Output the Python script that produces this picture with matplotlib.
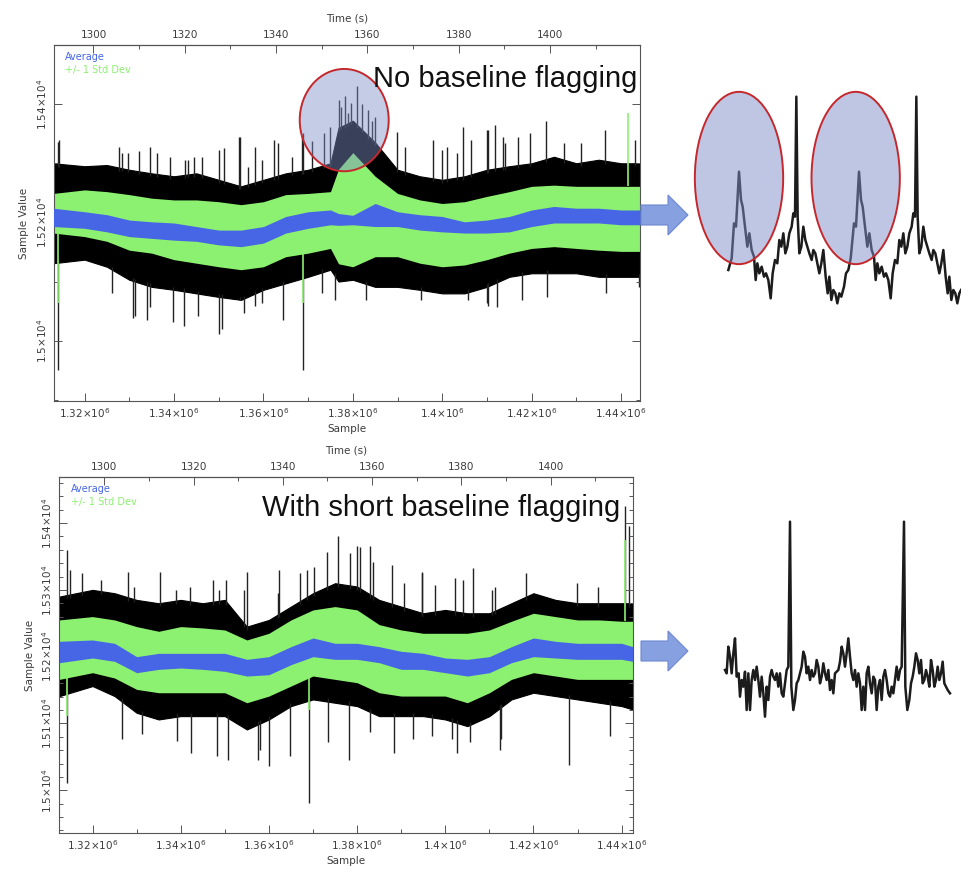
import numpy as np
import matplotlib
matplotlib.use("Agg")
import matplotlib.pyplot as plt
from matplotlib.patches import Ellipse, Polygon
from matplotlib.ticker import MultipleLocator, FixedLocator, FuncFormatter

plt.rcParams['font.family'] = ['DejaVu Sans']

# ------------------------------------------------------------------
# 数据 (从图上读取的包络/尖峰, 单位: 样本值)
# ------------------------------------------------------------------
grid_top = np.array([1.3130, 1.3200, 1.3250, 1.3300, 1.3350, 1.3400, 1.3450, 1.3500, 1.3550, 1.3600,
                     1.3650, 1.3700, 1.3750, 1.3768, 1.3800, 1.3850, 1.3900, 1.3950, 1.4000, 1.4050,
                     1.4100, 1.4150, 1.4200, 1.4250, 1.4300, 1.4350, 1.4400, 1.4443]) * 1e6
grid_bot = np.concatenate([[1.3125e6], np.arange(1.320e6, 1.4401e6, 5000), [1.4425e6]])

top_black_hi = [15300, 15295, 15297, 15289, 15283, 15278, 15283, 15272, 15261, 15272, 15283, 15289, 15300,
                15360, 15372, 15335, 15289, 15278, 15272, 15278, 15289, 15295, 15300, 15311, 15300, 15306,
                15300, 15300]
top_green_hi = [15249, 15255, 15252, 15247, 15241, 15238, 15238, 15235, 15230, 15235, 15247, 15249, 15252,
                15290, 15318, 15278, 15249, 15238, 15232, 15235, 15244, 15252, 15261, 15263, 15261, 15261,
                15261, 15261]
top_blue_hi = [15224, 15218, 15213, 15204, 15201, 15199, 15193, 15187, 15187, 15193, 15210, 15218, 15221,
               15215, 15212, 15232, 15218, 15213, 15210, 15201, 15204, 15210, 15221, 15227, 15224, 15224,
               15221, 15221]
top_blue_lo = [15193, 15190, 15184, 15176, 15173, 15170, 15168, 15162, 15159, 15165, 15182, 15190, 15196,
               15195, 15196, 15193, 15193, 15187, 15184, 15182, 15182, 15184, 15193, 15199, 15199, 15199,
               15196, 15196]
top_green_lo = [15182, 15176, 15168, 15153, 15148, 15137, 15131, 15125, 15120, 15125, 15142, 15148, 15156,
                15130, 15125, 15142, 15142, 15131, 15125, 15128, 15137, 15148, 15156, 15159, 15156, 15153,
                15151, 15151]
top_black_lo = [15131, 15137, 15125, 15103, 15091, 15086, 15080, 15074, 15069, 15086, 15097, 15108, 15120,
                15100, 15103, 15091, 15091, 15086, 15080, 15080, 15091, 15108, 15114, 15114, 15114, 15108,
                15108, 15108]

top_spike_up_s = np.array([1.31405, 1.31426, 1.32769, 1.32838, 1.32970, 1.33214, 1.33468, 1.33609, 1.3392, 1.34249,
                           1.34311, 1.34438, 1.34626, 1.35002, 1.35116, 1.35445, 1.35474, 1.35653, 1.35821, 1.35966,
                           1.36235, 1.3632, 1.36637, 1.36866, 1.36883, 1.37092, 1.3735, 1.3750, 1.37685, 1.37826,
                           1.37967, 1.3809, 1.38344, 1.38485, 1.38985, 1.39164, 1.39790, 1.39991, 1.40104, 1.40326,
                           1.40461, 1.4065, 1.40997, 1.41026, 1.41176, 1.41355, 1.41403, 1.41685, 1.41967, 1.42325,
                           1.4272, 1.43097, 1.43633, 1.4432, 1.37740, 1.37900, 1.38200, 1.38420]) * 1e6
top_spike_up_v = [15336, 15340, 15327, 15317, 15317, 15320, 15328, 15317, 15311, 15306,
                  15305, 15311, 15311, 15323, 15326, 15345, 15344, 15294, 15328, 15305,
                  15339, 15334, 15311, 15345, 15351, 15337, 15351, 15362, 15407, 15413,
                  15402, 15431, 15390, 15379, 15353, 15327, 15339, 15323, 15328, 15317,
                  15362, 15340, 15356, 15357, 15365, 15344, 15334, 15345, 15351, 15371,
                  15334, 15334, 15357, 15340, 15395, 15385, 15400, 15372]
top_spike_dn_s = np.array([1.31407, 1.32612, 1.33082, 1.3312, 1.3339, 1.33462, 1.33975, 1.34221, 1.34534, 1.35002,
                           1.35071, 1.35474, 1.35567, 1.35802, 1.35966, 1.36436, 1.36885, 1.37308, 1.376, 1.38297,
                           1.3952, 1.40571, 1.40997, 1.41026, 1.41221, 1.41779, 1.42344, 1.43662, 1.44396]) * 1e6
top_spike_dn_v = [14950, 15081, 15039, 15041, 15035, 15057, 15032, 15024, 15041, 15012,
                  15019, 15069, 15046, 15058, 15064, 15035, 14950, 15081, 15069, 15069,
                  15069, 15069, 15064, 15058, 15057, 15069, 15074, 15080, 15091]
top_green_spk_s = np.array([1.31407, 1.36885, 1.44151]) * 1e6
top_green_spk_v = [15063, 15063, 15385]

bot_black_hi = [15290, 15300, 15295, 15285, 15280, 15285, 15280, 15285, 15245, 15255, 15275, 15295, 15310,
                15305, 15285, 15275, 15265, 15270, 15265, 15265, 15280, 15295, 15285, 15280, 15280, 15280, 15280]
bot_green_hi = [15255, 15260, 15255, 15245, 15238, 15245, 15243, 15240, 15225, 15235, 15255, 15270, 15275,
                15270, 15248, 15240, 15235, 15235, 15235, 15240, 15253, 15265, 15260, 15255, 15255, 15253, 15253]
bot_blue_hi = [15223, 15225, 15220, 15200, 15205, 15205, 15205, 15205, 15196, 15200, 15215, 15228, 15220,
               15220, 15215, 15208, 15205, 15198, 15196, 15200, 15215, 15228, 15223, 15220, 15220, 15220, 15215]
bot_blue_lo = [15191, 15198, 15193, 15176, 15181, 15183, 15181, 15178, 15171, 15173, 15188, 15200, 15196,
               15196, 15191, 15181, 15181, 15176, 15171, 15176, 15191, 15200, 15198, 15196, 15196, 15196, 15193]
bot_green_lo = [15166, 15176, 15168, 15151, 15146, 15146, 15146, 15146, 15131, 15141, 15156, 15171, 15166,
                15161, 15146, 15141, 15141, 15141, 15131, 15146, 15166, 15176, 15171, 15166, 15166, 15166, 15166]
bot_black_lo = [15141, 15156, 15141, 15116, 15106, 15111, 15111, 15111, 15091, 15106, 15126, 15136, 15131,
                15126, 15111, 15111, 15111, 15106, 15096, 15111, 15136, 15146, 15141, 15136, 15131, 15126, 15121]

bot_spike_up_s = np.array([1.31427, 1.31494, 1.31754, 1.32191, 1.32811, 1.32936, 1.33530, 1.3389, 1.34215, 1.34739,
                           1.34864, 1.35027, 1.35437, 1.35496, 1.36201, 1.36236, 1.36705, 1.36857, 1.37012, 1.3731,
                           1.37575, 1.37839, 1.37995, 1.38066, 1.38301, 1.38368, 1.38785, 1.39065, 1.39466, 1.39475,
                           1.39767, 1.40221, 1.40401, 1.40636, 1.41069, 1.41128, 1.41833, 1.42979, 1.43456, 1.44077,
                           1.44172]) * 1e6
bot_spike_up_v = [15360, 15330, 15325, 15315, 15327, 15305, 15327, 15300, 15305, 15315,
                  15300, 15315, 15300, 15327, 15295, 15330, 15325, 15330, 15335, 15357,
                  15380, 15355, 15365, 15364, 15365, 15342, 15337, 15310, 15327, 15325,
                  15307, 15318, 15315, 15333, 15300, 15304, 15325, 15310, 15305, 15425,
                  15395]
bot_spike_dn_s = np.array([1.31427, 1.32668, 1.33115, 1.33908, 1.34244, 1.34816, 1.35079, 1.35742, 1.35798, 1.3601,
                           1.36478, 1.36898, 1.37347, 1.37805, 1.38293, 1.38826, 1.39276, 1.39693, 1.40147, 1.40258,
                           1.40562, 1.41242, 1.41261, 1.42807, 1.43743]) * 1e6
bot_spike_dn_v = [15011, 15076, 15084, 15073, 15056, 15051, 15046, 15046, 15061, 15036,
                  15051, 14981, 15072, 15046, 15087, 15056, 15076, 15081, 15076, 15056,
                  15072, 15061, 15076, 15038, 15081]
bot_green_spk_s = np.array([1.31427, 1.36898, 1.44077]) * 1e6
bot_green_spk_v = [15111, 15120, 15375]

# 顶部时间轴: 1300 s 对应的样本号, 每秒样本数
time_map_top = (1.32198e6, 1021.2)
time_map_bot = (1.32267e6, 1012.0)
time_ticks = [1300, 1320, 1340, 1360, 1380, 1400]

# 示意曲线 (任意单位)
sketch_top_t = [205, 215, 222, 228, 237, 243, 248, 255, 262, 268, 275, 282, 287, 292, 298, 305, 312, 318, 325, 332,
                338, 345, 352, 358, 364, 370, 376, 382, 388, 395, 400, 405, 409, 413, 418, 424, 430, 436, 442, 448,
                455, 460, 466, 472, 478, 484, 490, 497, 503, 508, 514, 520, 526, 532, 538, 544, 552, 558,
                565, 572, 582, 588, 597, 603, 608, 615, 622, 628, 635, 642, 647, 652, 658, 665, 672, 678, 685, 692,
                698, 705, 712, 718, 724, 730, 736, 742, 748, 755, 760, 765, 769, 773, 778, 784, 790, 796, 802, 808,
                815, 820, 826, 832, 838, 844, 850, 857, 863, 868, 874, 880, 886, 892, 898, 903]
sketch_top_a = [170, 205, 310, 300, 465, 380, 360, 300, 240, 280, 230, 210, 140, 190, 160, 180, 150, 160, 140, 85,
                160, 200, 190, 260, 240, 280, 220, 240, 280, 300, 340, 330, 690, 330, 220, 240, 300, 260, 240, 220,
                200, 230, 220, 190, 160, 190, 230, 150, 100, 150, 80, 110, 100, 70, 100, 90, 120, 160,
                170, 205, 310, 300, 465, 380, 360, 300, 240, 280, 230, 210, 140, 190, 160, 180, 150, 160, 140, 85,
                160, 200, 190, 260, 240, 280, 220, 240, 280, 300, 340, 330, 690, 330, 220, 240, 300, 260, 240, 220,
                200, 230, 220, 190, 160, 190, 230, 150, 100, 150, 80, 110, 100, 70, 100, 110]

sketch_bot_t = [195, 200, 205, 210, 215, 220, 225, 230, 236, 240, 245, 250, 255, 260, 265, 270, 275, 280, 285, 290,
                295, 300, 305, 310, 315, 320, 325, 330, 335, 340, 345, 350, 355, 360, 365, 370, 375, 380, 385, 390,
                394, 400, 405, 410, 415, 420, 425, 430, 435, 440, 445, 450, 455, 460, 465, 470, 475, 480, 485, 490,
                495, 500, 505, 510, 515, 520, 525, 530, 535, 540, 545, 550, 555, 560, 565, 570, 575, 580, 585, 590,
                595, 600, 605, 610, 615, 620, 625, 630, 635, 640, 645, 650, 655, 660, 665, 670, 675, 680, 685, 690,
                695, 700, 705, 710, 715, 720, 725, 732, 736, 742, 748, 753, 758, 763, 768, 773, 778, 783, 788, 793,
                798, 803, 808, 813, 818, 823, 828, 833, 838, 843, 848, 853, 858, 863, 870]
sketch_bot_a = [230, 220, 300, 270, 220, 280, 325, 210, 220, 150, 200, 180, 225, 110, 220, 110, 200, 230, 200, 240,
                200, 150, 210, 160, 90, 180, 140, 210, 230, 210, 200, 220, 180, 220, 160, 150, 190, 230, 240, 675,
                180, 110, 140, 190, 200, 220, 240, 285, 270, 220, 240, 200, 230, 210, 220, 260, 240, 190, 210, 250,
                220, 200, 230, 170, 200, 160, 220, 225, 230, 255, 300, 280, 240, 280, 325, 270, 220, 200, 230, 180,
                220, 190, 110, 180, 110, 220, 240, 190, 160, 210, 200, 110, 180, 200, 140, 210, 230, 200, 160, 150,
                180, 160, 200, 240, 200, 230, 240, 675, 180, 110, 140, 190, 210, 240, 280, 260, 220, 260, 190, 200,
                230, 210, 180, 260, 230, 180, 200, 240, 200, 220, 255, 190, 180, 170, 160]

GREEN = '#8cf070'
BLUE = '#4766e6'
TXT = '#3c3c3c'

W, H = 961, 871
fig = plt.figure(figsize=(W / 100, H / 100), dpi=100)


def px_box(x0, y0, x1, y1):
    return [x0 / W, 1 - y1 / H, (x1 - x0) / W, (y1 - y0) / H]


def sci_label(v, exp):
    m = ('%.2f' % (v / 10 ** exp)).rstrip('0').rstrip('.')
    return r'$%s{\times}10^{%d}$' % (m, exp)


def draw_panel(ax, grid, env, up, dn, gspk, xlim, ylim, ymaj, ymin, tmap, title, ttl_xy):
    bl_lo, bl_hi, gr_lo, gr_hi, bu_lo, bu_hi = env
    # 黑色: 原始数据包络
    ax.fill_between(grid, bl_lo, bl_hi, color='black', lw=0.8, zorder=1)
    base_up = np.interp(up[0], grid, bl_hi)
    ax.vlines(up[0], base_up - 5, up[1], color='#222222', lw=1.0, zorder=1)
    base_dn = np.interp(dn[0], grid, bl_lo)
    ax.vlines(dn[0], base_dn + 5, dn[1], color='#222222', lw=1.0, zorder=1)
    # 绿色: +/- 1 标准差
    ax.fill_between(grid, gr_lo, gr_hi, color=GREEN, lw=0, zorder=2)
    gbase = np.where(np.array(gspk[1]) > 15200,
                     np.interp(gspk[0], grid, gr_hi), np.interp(gspk[0], grid, gr_lo))
    ax.vlines(gspk[0], gbase, gspk[1], color=GREEN, lw=1.2, zorder=2)
    # 蓝色: 平均
    ax.fill_between(grid, bu_lo, bu_hi, color=BLUE, lw=0, zorder=3)

    ax.set_xlim(*xlim)
    ax.set_ylim(*ylim)
    ax.xaxis.set_major_locator(MultipleLocator(20000))
    ax.xaxis.set_minor_locator(MultipleLocator(10000))
    ax.yaxis.set_major_locator(MultipleLocator(ymaj))
    ax.yaxis.set_minor_locator(MultipleLocator(ymin))
    ax.xaxis.set_major_formatter(FuncFormatter(lambda v, p: sci_label(v, 6)))
    ax.yaxis.set_major_formatter(FuncFormatter(lambda v, p: sci_label(v, 4)))
    ax.tick_params(which='both', direction='in', top=False, right=True, colors='#555555',
                   labelcolor=TXT, labelsize=7.5, width=0.7)
    ax.tick_params(which='major', length=6)
    ax.tick_params(which='minor', length=3)
    for lab in ax.get_yticklabels():
        lab.set_rotation(90)
        lab.set_va('center')
    for sp in ax.spines.values():
        sp.set_color('#555555')
        sp.set_linewidth(0.8)
    ax.set_xlabel('Sample', fontsize=7.5, color=TXT, labelpad=3)
    ax.set_ylabel('Sample Value', fontsize=7.5, color=TXT, labelpad=4)

    s0, sps = tmap
    sec = ax.secondary_xaxis('top', functions=(lambda s: 1300 + (s - s0) / sps,
                                               lambda t: s0 + (t - 1300) * sps))
    sec.xaxis.set_major_locator(FixedLocator(time_ticks))
    sec.xaxis.set_minor_locator(FixedLocator([t + 10 for t in time_ticks]))
    sec.tick_params(which='both', direction='in', colors='#555555', labelcolor=TXT,
                    labelsize=7.5, width=0.7)
    sec.tick_params(which='major', length=6)
    sec.tick_params(which='minor', length=3)
    sec.set_xlabel('Time (s)', fontsize=7.5, color=TXT, labelpad=6)

    ax.text(0.02, 0.966, 'Average', transform=ax.transAxes, color=BLUE, fontsize=7, va='center')
    ax.text(0.02, 0.930, '+/- 1 Std Dev', transform=ax.transAxes, color=GREEN, fontsize=7, va='center')
    fig.text(ttl_xy[0] / W, 1 - ttl_xy[1] / H, title, ha='right', va='center',
             fontsize=21, family=['Liberation Sans', 'DejaVu Sans'], color='#111111')


ax1 = fig.add_axes(px_box(53.5, 45, 640, 401))
draw_panel(ax1, grid_top,
           (top_black_lo, top_black_hi, top_green_lo, top_green_hi, top_blue_lo, top_blue_hi),
           (top_spike_up_s, top_spike_up_v), (top_spike_dn_s, top_spike_dn_v),
           (top_green_spk_s, top_green_spk_v),
           (1.31304e6, 1.44424e6), (14898, 15500), 200, 100, time_map_top,
           'No baseline flagging', (637, 79))
ax1.add_patch(Ellipse((1.37807e6, 15373), 19900, 173, facecolor='#7f8fc8', alpha=0.45,
                      edgecolor='none', zorder=5))
ax1.add_patch(Ellipse((1.37807e6, 15373), 19900, 173, facecolor='none', edgecolor='#c4282c',
                      lw=1.4, zorder=6))

ax2 = fig.add_axes(px_box(59.3, 477, 632.6, 833))
draw_panel(ax2, grid_bot,
           (bot_black_lo, bot_black_hi, bot_green_lo, bot_green_hi, bot_blue_lo, bot_blue_hi),
           (bot_spike_up_s, bot_spike_up_v), (bot_spike_dn_s, bot_spike_dn_v),
           (bot_green_spk_s, bot_green_spk_v),
           (1.31246e6, 1.44248e6), (14936, 15469), 100, 20, time_map_bot,
           'With short baseline flagging', (620, 508))

# 右侧示意图
axs1 = fig.add_axes(px_box(660, 60, 961, 340))
axs1.plot(sketch_top_t, sketch_top_a, color='#1c1c1c', lw=1.8, solid_joinstyle='round')
for cx in (237, 587):
    axs1.add_patch(Ellipse((cx, 446), 265, 517, facecolor='#7f8fc8', alpha=0.5,
                           edgecolor='none', zorder=5))
    axs1.add_patch(Ellipse((cx, 446), 265, 517, facecolor='none', edgecolor='#c4282c',
                           lw=1.4, zorder=6))
axs1.set_xlim(0, 903)
axs1.set_ylim(-40, 800)
axs1.axis('off')

axs2 = fig.add_axes(px_box(660, 480, 961, 740))
axs2.plot(sketch_bot_t, sketch_bot_a, color='#1c1c1c', lw=1.8, solid_joinstyle='round')
axs2.set_xlim(0, 903)
axs2.set_ylim(20, 800)
axs2.axis('off')

# 箭头
axo = fig.add_axes([0, 0, 1, 1])
axo.set_xlim(0, W)
axo.set_ylim(H, 0)
axo.axis('off')
for cy in (215, 651):
    pts = [(641, cy - 10), (668, cy - 10), (668, cy - 20), (688, cy), (668, cy + 20),
           (668, cy + 10), (641, cy + 10)]
    axo.add_patch(Polygon(pts, closed=True, facecolor='#86a0e0', edgecolor='#6d88d2', lw=0.8))

fig.savefig('out.png', dpi=100)
